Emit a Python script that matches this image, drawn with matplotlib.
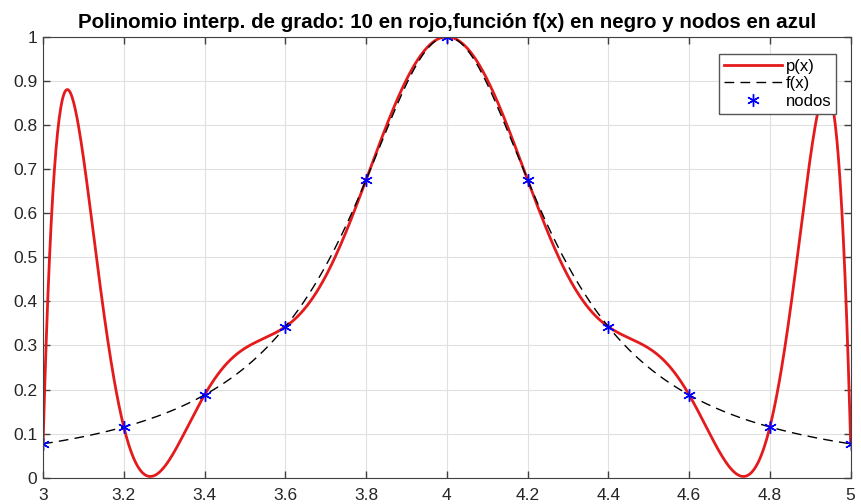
import numpy as np
import matplotlib
matplotlib.use("Agg")
import matplotlib.pyplot as plt

plt.rcParams['font.family'] = ['Liberation Sans', 'DejaVu Sans']

# interpolation nodes and their values f(x_i)
nodos_x = [3.0, 3.2, 3.4, 3.6, 3.8, 4.0, 4.2, 4.4, 4.6, 4.8, 5.0]
nodos_y = [0.0769, 0.1152, 0.1880, 0.3425, 0.6757, 1.0,
           0.6757, 0.3425, 0.1880, 0.1152, 0.0769]
grado = 10
centro = 4.0
k = 12.0


def f(x):
    return 1.0 / (1.0 + k * (x - centro) ** 2)


# polinomio interpolante a través de los nodos
coef = np.polyfit(nodos_x, nodos_y, grado)
xx = np.linspace(3, 5, 1000)
px = np.polyval(coef, xx)
fx = f(xx)

fig = plt.figure(figsize=(8.61, 5.04), dpi=100)
ax = fig.add_axes([0.050, 0.052, 0.938, 0.875])

ax.plot(xx, px, color='#e41a1c', lw=2.0, label='p(x)')
ax.plot(xx, fx, color='black', lw=1.0, ls=(0, (7, 4.5)), label='f(x)')
ax.plot(nodos_x, nodos_y, ls='none', marker=(6, 2, 0), color='blue',
        ms=9, mew=1.0, label='nodos')

ax.set_xlim(3, 5)
ax.set_ylim(0, 1)
ax.set_xticks(np.arange(3, 5.01, 0.2))
ax.set_xticklabels(['3', '3.2', '3.4', '3.6', '3.8', '4', '4.2', '4.4', '4.6', '4.8', '5'])
ax.set_yticks(np.arange(0, 1.01, 0.1))
ax.set_yticklabels(['0', '0.1', '0.2', '0.3', '0.4', '0.5', '0.6', '0.7', '0.8', '0.9', '1'])
ax.grid(True, color='#e0e0e0', lw=0.8)
ax.set_axisbelow(True)
ax.tick_params(direction='in', top=True, right=True, length=5, width=1,
               colors='#404040', labelsize=12.5, labelcolor='#262626', pad=4)
ax.tick_params(axis='x', pad=7)
for s in ax.spines.values():
    s.set_color('#404040')

ax.set_title('Polinomio interp. de grado: 10 en rojo,función f(x) en negro y nodos en azul',
             fontsize=14.8, fontweight='bold', pad=6)

leg = ax.legend(loc='upper right', bbox_to_anchor=(0.982, 0.962), fontsize=12,
                fancybox=False, framealpha=1, edgecolor='#555555',
                handlelength=3.5, borderpad=0.3, labelspacing=0.15, handletextpad=0.2,
                borderaxespad=0)
leg.get_frame().set_linewidth(1.0)

fig.savefig('out.png', dpi=100)
